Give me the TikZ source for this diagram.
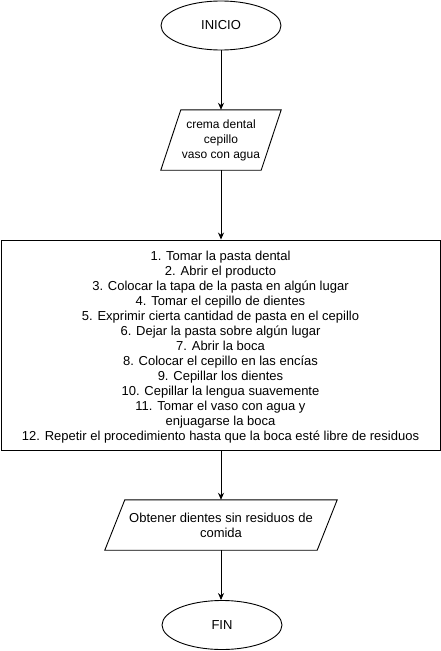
\documentclass[tikz,border=0pt]{standalone}
\usepackage{fontspec}
\setmainfont{Liberation Sans}
\usetikzlibrary{shapes.geometric,arrows.meta,calc}
\begin{document}
\begin{tikzpicture}[x=1pt,y=-1pt,
  every node/.style={font=\fontsize{13}{15}\selectfont, inner sep=0pt, align=center},
  term/.style={ellipse, draw, line width=0.9pt, minimum width=120pt, minimum height=49pt},
  para/.style={rectangle, minimum width=#1, minimum height=60pt},
  proc/.style={rectangle, draw, line width=0.9pt},
  conn/.style={line width=0.9pt, -{Stealth[length=7pt,width=6pt]}},
  pshape/.style={line width=0.9pt}
]
\useasboundingbox (0,0) rectangle (441,651);
\fill[white] (0,0) rectangle (441,651);

\node[term] (ini) at (221,25.5) {INICIO};

\node[para=120pt, minimum height=60pt, font=\fontsize{12}{15}\selectfont] (in) at (221,140) {crema dental\\cepillo\\vaso con agua};
\draw[pshape] ($(in.north west)+(20,0)$) -- (in.north east) -- ($(in.south east)-(20,0)$) -- (in.south west) -- cycle;

\node[proc, minimum width=439pt, minimum height=210pt] (pr) at (220.5,345) {};
\node (prtext) at ([yshift=-2.5pt]pr.center) {%
1. Tomar la pasta dental\\
2. Abrir el producto\\
3. Colocar la tapa de la pasta en algún lugar\\
4. Tomar el cepillo de dientes\\
5. Exprimir cierta cantidad de pasta en el cepillo\\
6. Dejar la pasta sobre algún lugar\\
7. Abrir la boca\\
8. Colocar el cepillo en las encías\\
9. Cepillar los dientes\\
10. Cepillar la lengua suavemente\\
11. Tomar el vaso con agua y\\
enjuagarse la boca\\
12. Repetir el procedimiento hasta que la boca esté libre de residuos};

\node[para=232pt, minimum height=50pt] (out) at (221,525) {Obtener dientes sin residuos de\\comida};
\draw[pshape] ($(out.north west)+(20,0)$) -- (out.north east) -- ($(out.south east)-(20,0)$) -- (out.south west) -- cycle;

\node[term] (fin) at (222,625) {FIN};

\draw[conn] (ini.south) -- (in.north);
\draw[conn] (in.south) -- (in.south |- pr.north);
\draw[conn] (pr.south -| out.north) -- (out.north);
\draw[conn] (out.south) -- (out.south |- fin.north);
\end{tikzpicture}
\end{document}
